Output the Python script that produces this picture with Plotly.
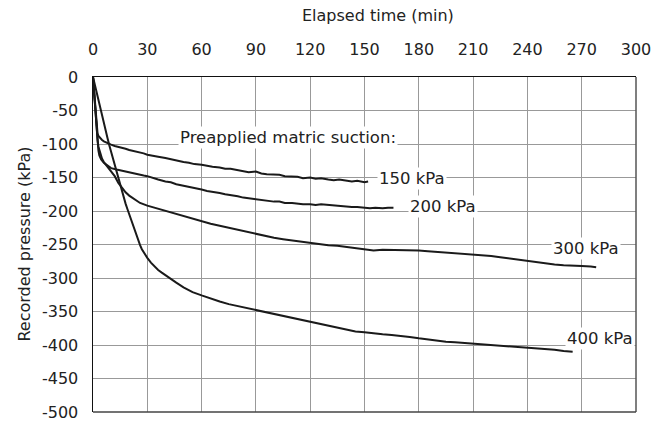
import plotly.graph_objects as go

# ---- data ----
t150 = [0, 0.5, 1, 1.5, 2, 2.5, 3, 4, 5, 6, 8, 10, 12, 14, 16, 18, 20, 22, 25, 28,
        30, 33, 36, 40, 43, 46, 50, 53, 56, 60, 63, 66, 70, 73, 76, 80, 83, 86, 90, 93,
        96, 100, 103, 106, 110, 113, 116, 120, 123, 126, 130, 133, 136, 140, 143, 146, 150, 152]
p150 = [0, -18, -38, -58, -74, -84, -88, -92, -94, -96, -99, -101, -103, -104, -106, -107, -109, -110, -112, -114,
        -116, -117, -119, -121, -123, -124, -127, -128, -130, -131, -133, -134, -135, -137, -137, -139, -140, -142, -141, -144,
        -145, -146, -146, -148, -149, -149, -151, -150, -152, -151, -153, -154, -153, -155, -156, -155, -157, -156]

t200 = [0, 0.5, 1, 1.5, 2, 2.5, 3, 3.5, 4.5, 6, 8, 10, 13, 16, 19, 22, 25, 28, 30, 33,
        36, 40, 43, 46, 50, 53, 56, 60, 63, 66, 70, 73, 76, 80, 83, 86, 90, 93, 96, 100,
        103, 106, 110, 113, 116, 120, 123, 126, 130, 133, 136, 140, 143, 146, 150, 153, 156, 160, 163, 166]
p200 = [0, -20, -42, -64, -84, -100, -110, -117, -123, -128, -132, -136, -138, -140, -142, -143, -145, -147, -148, -150,
        -153, -156, -157, -160, -162, -164, -166, -168, -170, -171, -173, -175, -176, -178, -180, -181, -183, -184, -185, -186,
        -186, -188, -188, -189, -190, -190, -191, -190, -191, -192, -192, -193, -194, -194, -195, -196, -195, -196, -195, -195]

t300 = [0, 0.5, 1, 1.5, 2, 2.5, 3, 4, 5, 6, 8, 10, 12, 14, 16, 18, 20, 23, 26, 30,
        35, 40, 45, 50, 55, 60, 65, 70, 75, 80, 85, 90, 95, 100, 105, 110, 115, 120, 125, 130,
        135, 140, 145, 150, 155, 160, 165, 170, 175, 180, 185, 190, 195, 200, 205, 210, 215, 220, 225, 230,
        235, 240, 245, 250, 255, 260, 265, 270, 275, 278]
p300 = [0, -20, -42, -62, -80, -94, -104, -115, -122, -127, -134, -140, -148, -158, -166, -172, -177, -183, -188, -192,
        -196, -200, -204, -208, -212, -216, -219, -222, -225, -228, -232, -235, -238, -240, -242, -244, -246, -248, -250, -251,
        -252, -254, -256, -257, -259, -258, -258, -258, -258, -259, -260, -261, -262, -262, -263, -264, -266, -267, -269, -271,
        -273, -275, -277, -278, -280, -281, -281, -282, -283, -284]

t400 = [0, 1, 2, 3, 4, 5, 6, 7, 8, 9, 10, 11, 12, 13, 14, 15, 16, 17, 18, 19,
        20, 21, 22, 23, 24, 25, 26, 27, 28, 29, 30, 32, 34, 36, 38, 40, 43, 46, 50, 55,
        60, 65, 70, 75, 80, 85, 90, 95, 100, 105, 110, 115, 120, 125, 130, 135, 140, 145, 150, 155,
        160, 165, 170, 175, 180, 185, 190, 195, 200, 205, 210, 215, 220, 225, 230, 235, 240, 245, 250, 255,
        260, 265]
p400 = [0, -12, -24, -36, -48, -59, -70, -81, -91, -102, -112, -123, -133, -143, -152, -160, -170, -180, -189, -197,
        -205, -214, -222, -230, -237, -245, -251, -257, -262, -266, -270, -277, -283, -288, -292, -296, -301, -307, -314, -321,
        -326, -331, -335, -339, -342, -345, -348, -351, -354, -357, -359, -362, -366, -369, -372, -375, -378, -380, -381, -383,
        -384, -385, -386, -388, -390, -392, -393, -395, -396, -397, -398, -399, -400, -401, -401, -402, -403, -404, -405, -407,
        -409, -410]

series_t = [t150, t200, t300, t400]
series_p = [p150, p200, p300, p400]
series_names = ["150 kPa", "200 kPa", "300 kPa", "400 kPa"]

# label anchor positions (data coords)
label_x = [157, 174, 253, 261]
label_y = [-152, -193, -256, -390]
header_text = "Preapplied matric suction:"
header_x = 47
header_y = -91

x_ticks = list(range(0, 301, 30))
x_tick_text = [str(v) for v in x_ticks]
y_ticks = list(range(0, -501, -50))
y_tick_text = [str(v) for v in y_ticks]  # plain hyphen-minus as in the reference

FONT = "DejaVu Sans"
TXT = "#222222"
FS = 16.5

fig = go.Figure()
for tt, pp, nm in zip(series_t, series_p, series_names):
    fig.add_trace(go.Scatter(x=tt, y=pp, mode="lines", name=nm,
                             line=dict(color="#1a1a1a", width=2), showlegend=False,
                             hoverinfo="skip"))

annotations = []
for nm, lx, ly in zip(series_names, label_x, label_y):
    annotations.append(dict(x=lx, y=ly, xref="x", yref="y", text=nm, showarrow=False,
                            xanchor="left", yanchor="middle", bgcolor="white",
                            font=dict(family=FONT, size=FS, color=TXT)))
annotations.append(dict(x=header_x, y=header_y, xref="x", yref="y", text=header_text,
                        showarrow=False, xanchor="left", yanchor="middle", bgcolor="white",
                        font=dict(family=FONT, size=FS, color=TXT)))
annotations.append(dict(x=0.524, y=1.183, xref="paper", yref="paper", text="Elapsed time (min)",
                        showarrow=False, xanchor="center", yanchor="middle",
                        font=dict(family=FONT, size=16, color=TXT)))
annotations.append(dict(x=-0.127, y=0.5, xref="paper", yref="paper", text="Recorded pressure (kPa)",
                        showarrow=False, xanchor="center", yanchor="middle", textangle=-90,
                        font=dict(family=FONT, size=16, color=TXT)))

fig.update_layout(
    width=663, height=421,
    margin=dict(l=93, r=27, t=77, b=9, autoexpand=False),
    paper_bgcolor="white", plot_bgcolor="white",
    font=dict(family=FONT, size=16, color=TXT),
    annotations=annotations,
    shapes=[
        dict(type="line", xref="paper", yref="paper", x0=1, x1=1, y0=0, y1=1,
             layer="above", line=dict(color="#555555", width=1.5)),
        dict(type="line", xref="paper", yref="paper", x0=0, x1=1, y0=0, y1=0,
             layer="above", line=dict(color="#444444", width=1.5)),
    ],
)
fig.update_xaxes(range=[0, 300], side="top", tickvals=x_ticks, ticktext=x_tick_text, ticks="",
                 ticklabelstandoff=14, ticklabeloverflow="allow",
                 showgrid=True, gridcolor="#999999", gridwidth=1,
                 zeroline=False, showline=True, linecolor="#111111", linewidth=1.5,
                 tickfont=dict(family=FONT, size=16, color=TXT))
fig.update_yaxes(range=[-500, 0], tickvals=y_ticks, ticktext=y_tick_text, ticks="",
                 ticklabelstandoff=10, ticklabeloverflow="allow",
                 showgrid=True, gridcolor="#999999", gridwidth=1,
                 zeroline=False, showline=True, linecolor="#111111", linewidth=1.5,
                 tickfont=dict(family=FONT, size=16, color=TXT))

fig.write_html(
    "out.html",
    config={"displayModeBar": False, "staticPlot": True},
    post_script="document.body.style.margin='0';document.body.style.padding='0';"
                "document.documentElement.style.overflow='hidden';",
)
